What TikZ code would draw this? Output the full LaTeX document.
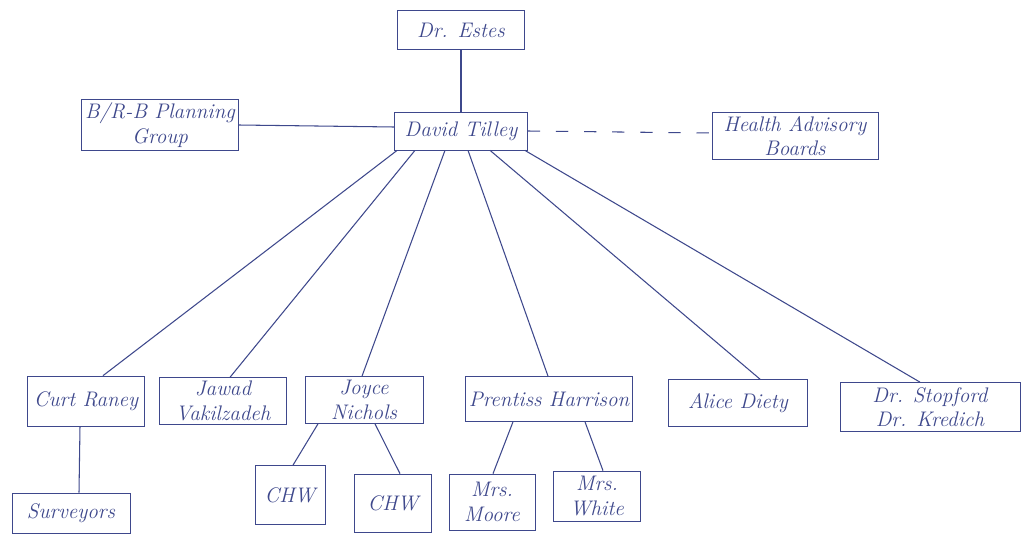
\documentclass[tikz,border=0pt]{standalone}
\usepackage{tikz}
\usetikzlibrary{calc}
\definecolor{ink}{RGB}{62,72,140}
\tikzset{orgbox/.style={draw=ink, text=ink, align=center, inner sep=2pt, font=\large\itshape}}
\tikzset{link/.style={draw=ink, line width=0.6pt}}
\tikzset{advisory/.style={link, dash pattern=on 7pt off 9pt}}

\begin{document}
\begin{tikzpicture}[x=0.02cm, y=-0.02cm]
            \fill[white] (0, 0) rectangle (1022, 534);
            \useasboundingbox (0, 0) rectangle (1022, 534);
            % top of the chart
            \node[orgbox, minimum width=2.54cm, minimum height=0.78cm] (estes) at (461, 30) {Dr. Estes};
            \node[orgbox, minimum width=2.66cm, minimum height=0.76cm] (tilley) at (461, 131) {David Tilley};
            \node[orgbox, minimum width=2.72cm, minimum height=0.78cm] (planning) at (160, 125) {B/R-B Planning\\Group};
            \node[orgbox, minimum width=3.32cm, minimum height=0.88cm] (health) at (795, 136) {Health Advisory\\Boards};
            % second row
            \node[orgbox, minimum width=2.34cm, minimum height=1.00cm] (curt) at (86, 401) {Curt Raney};
            \node[orgbox, minimum width=2.54cm, minimum height=0.92cm] (jawad) at (223, 401) {Jawad\\Vakilzadeh};
            \node[orgbox, minimum width=2.36cm, minimum height=0.94cm] (joyce) at (364, 400) {Joyce\\Nichols};
            \node[orgbox, minimum width=3.24cm, minimum height=0.90cm] (prentiss) at (549, 399) {Prentiss Harrison};
            \node[orgbox, minimum width=2.78cm, minimum height=0.94cm] (alice) at (738, 403) {Alice Diety};
            \node[orgbox, minimum width=3.60cm, minimum height=0.98cm] (doctors) at (930, 407) {Dr. Stopford\\Dr. Kredich};
            % bottom row
            \node[orgbox, minimum width=2.36cm, minimum height=0.80cm] (surveyors) at (71, 513) {Surveyors};
            \node[orgbox, minimum width=1.40cm, minimum height=1.18cm] (chwa) at (290, 495) {CHW};
            \node[orgbox, minimum width=1.54cm, minimum height=1.16cm] (chwb) at (393, 503) {CHW};
            \node[orgbox, minimum width=1.72cm, minimum height=1.12cm] (moore) at (492, 502) {Mrs.\\Moore};
            \node[orgbox, minimum width=1.74cm, minimum height=1.00cm] (white) at (597, 496) {Mrs.\\White};
            % connectors
            \draw[link] (estes) -- (tilley);
            \draw[link] (planning.east) -- ($(tilley.west)+(0, -4)$);
            \draw[advisory] (tilley.east) -- ($(health.west)+(0, -3)$);
            \draw[link] ($(tilley.south west)+(3, 0)$) -- ($(curt.north)+(17, 0)$);
            \draw[link] ($(tilley.south)+(-46, 0)$) -- ($(jawad.north)+(7, 0)$);
            \draw[link] ($(tilley.south)+(-16, 0)$) -- ($(joyce.north)+(-2, 0)$);
            \draw[link] ($(tilley.south)+(7, 0)$) -- ($(prentiss.north)+(-1, 0)$);
            \draw[link] ($(tilley.south)+(29, 0)$) -- ($(alice.north)+(22, 0)$);
            \draw[link] ($(tilley.south east)+(-3, 0)$) -- ($(doctors.north)+(-10, 0)$);
            \draw[link] ($(curt.south)+(-6, 0)$) -- ($(surveyors.north)+(8, 0)$);
            \draw[link] ($(joyce.south)+(-46, 0)$) -- ($(chwa.north)+(3, 0)$);
            \draw[link] ($(joyce.south)+(11, 0)$) -- ($(chwb.north)+(7, 0)$);
            \draw[link] ($(prentiss.south)+(-36, 0)$) -- ($(moore.north)+(1, 0)$);
            \draw[link] ($(prentiss.south)+(36, 0)$) -- ($(white.north)+(6, 0)$);
        \end{tikzpicture}
\end{document}
